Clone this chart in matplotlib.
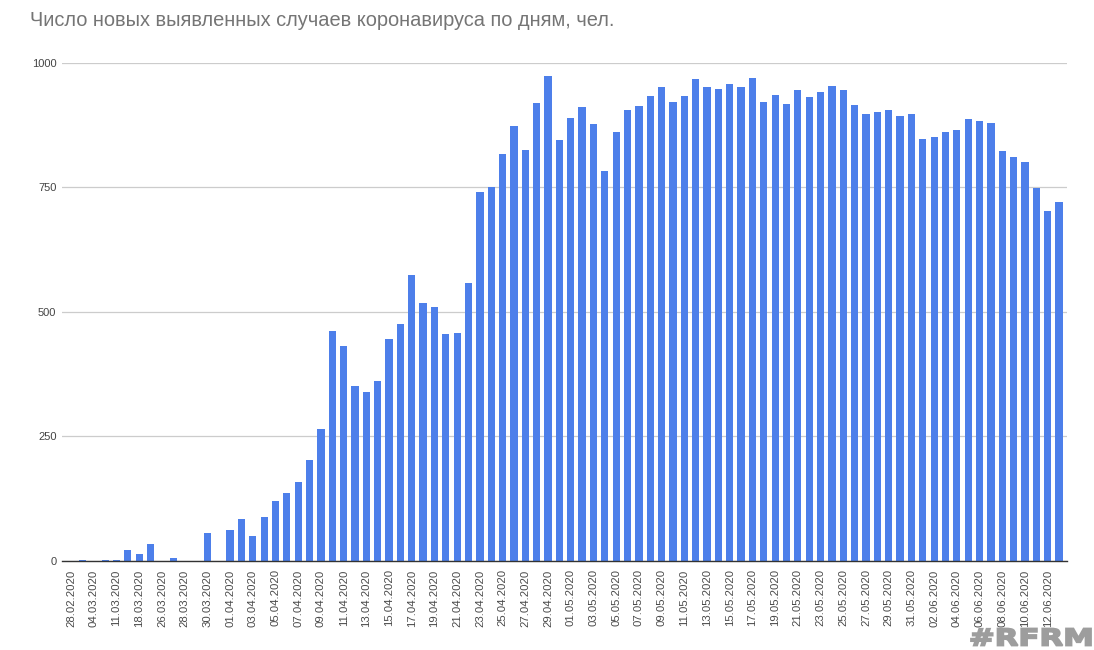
import matplotlib
matplotlib.use('Agg')
import matplotlib.pyplot as plt
import numpy as np
import pandas as pd
from matplotlib.textpath import TextPath
from matplotlib.font_manager import FontProperties
from matplotlib.patches import PathPatch
from matplotlib.transforms import Affine2D

# Dates: early days are sparse, then daily from 01.04 to 13.06
early_dates = ['28.02.2020', '02.03.2020', '04.03.2020', '06.03.2020',
               '11.03.2020', '13.03.2020', '18.03.2020', '21.03.2020',
               '26.03.2020', '27.03.2020', '28.03.2020', '29.03.2020',
               '30.03.2020', '31.03.2020']
late_dates = [d.strftime('%d.%m.%Y') for d in pd.date_range('2020-04-01', '2020-06-13')]
dates = early_dates + late_dates

cases = [0, 2, 0, 2, 3, 23, 15, 34, 0, 7, 0, 0, 56, 0,
         63, 85, 51, 89, 121, 137, 159, 203,
         264, 462, 431, 352, 340, 362, 446, 476, 574, 518, 510, 455, 458, 557,
         740, 750, 816, 873, 824, 919, 973, 845, 889, 911, 877, 782, 861, 905,
         913, 933, 951, 921, 933, 967,
         951, 947, 957, 951, 969, 921, 935, 917, 945, 931, 941, 953, 945, 915,
         897, 901, 905,
         893, 897, 847, 851, 861, 865, 887, 883, 879, 822, 810, 800, 748, 702, 720]

y_ticks = [0, 250, 500, 750, 1000]

title = 'Число новых выявленных случаев коронавируса по дням, чел.'

plt.rcParams['font.family'] = ['Liberation Sans', 'DejaVu Sans']

fig = plt.figure(figsize=(10.94, 6.5), dpi=100)
ax = fig.add_axes([62 / 1094, 1 - 561 / 650, (1067 - 62) / 1094, (561 - 62.7) / 650])

x = np.arange(len(dates))
ax.bar(x, cases, width=0.64, color='#4d7fea', zorder=3)

ax.set_xlim(-0.8, len(dates) - 0.3)
ax.set_ylim(0, 1000)
ax.set_yticks(y_ticks)
ax.set_yticklabels([str(v) for v in y_ticks], fontsize=8, color='#444444')
ax.set_xticks(x[::2])
ax.set_xticklabels(dates[::2], rotation=90, fontsize=8.2, color='#4a4a4a')
ax.tick_params(axis='both', length=0)
ax.tick_params(axis='x', pad=6)
ax.tick_params(axis='y', pad=4)

ax.grid(axis='y', color='#cccccc', linewidth=0.9, zorder=0)
for side in ['top', 'right', 'left']:
    ax.spines[side].set_visible(False)
ax.spines['bottom'].set_color('#333333')
ax.spines['bottom'].set_linewidth(1.0)
ax.spines['bottom'].set_zorder(4)

fig.text(30 / 1094, 1 - 21 / 650, title, fontsize=14.4, color='#757575',
         ha='left', va='center')

# watermark, stretched to the box it fills in the original
tp = TextPath((0, 0), '#RFRM', size=20,
              prop=FontProperties(family='DejaVu Sans', weight='bold'))
ext = tp.get_extents()
sx = 120 / ext.width
sy = 17 / ext.height
tr = (Affine2D().translate(-ext.x0, -ext.y0).scale(sx, sy).translate(971, 4.5)
      + Affine2D().scale(1 / 1094, 1 / 650) + fig.transFigure)
fig.patches.append(PathPatch(tp, transform=tr, facecolor='#9d9d9d',
                             edgecolor='#9d9d9d', linewidth=1.3, zorder=10))

fig.savefig('out.png', dpi=100)
